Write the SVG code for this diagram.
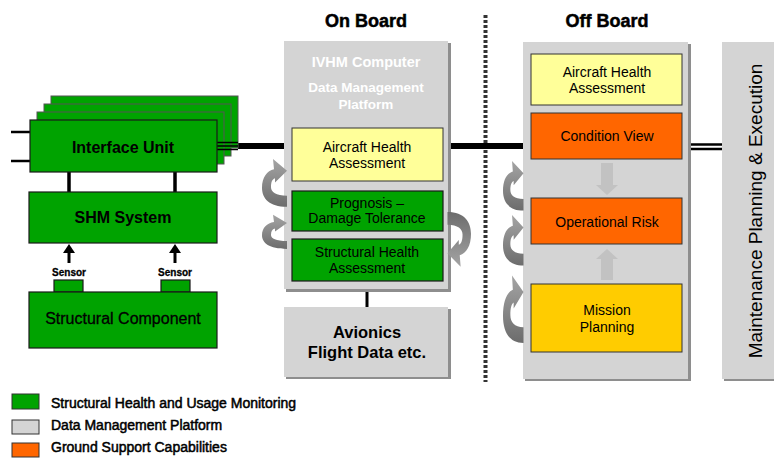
<svg xmlns="http://www.w3.org/2000/svg" width="774" height="459" viewBox="0 0 774 459">
  <style>
    text { font-family: "Liberation Sans", Arial, sans-serif; fill: #000; }
    .hdr { font-size: 18px; font-weight: bold; stroke: #000; stroke-width: 0.5; text-anchor: middle; }
    .big { font-size: 16px; font-weight: bold; text-anchor: middle; }
    .box { font-size: 14px; text-anchor: middle; }
    .wht { fill: #fff; font-weight: bold; text-anchor: middle; }
    .sens { font-size: 10px; font-weight: bold; stroke: #000; stroke-width: 0.3; text-anchor: middle; }
    .leg { font-size: 14px; stroke: #000; stroke-width: 0.5; }
    .green { fill: #00A300; stroke: #1a1a1a; stroke-width: 1.2; }
    .stack { fill: #00A300; stroke: #555; stroke-width: 1; }
    .yellow { fill: #FFFF99; stroke: #333; stroke-width: 1; }
    .orange { fill: #FF6600; stroke: #333; stroke-width: 1; }
    .gold { fill: #FFCC00; stroke: #333; stroke-width: 1; }
    .panel { fill: #D4D4D4; }
    .shadow { fill: #8E8E8E; }
    .wire { stroke: #000; fill: none; }
  </style>
  <defs>
    <linearGradient id="curlFill" x1="0" y1="0" x2="0" y2="1">
      <stop offset="0" stop-color="#A4A4A4"/>
      <stop offset="1" stop-color="#6C6C6C"/>
    </linearGradient>
    <!-- curved feedback arrow, 25 x 46, box edge on the right -->
    <path id="curl" fill="url(#curlFill)" d="M25 46 C7 46 0 38 0 28 C0 18 5 12 12 10.5 L11 1 L25 12 L13 23 L13 19 C10 20 9 23 9 27.5 C9 32 14 35.5 25 35.5 Z"/>
  </defs>

  <rect width="774" height="459" fill="#fff"/>

  <!-- section headings and divider -->
  <text class="hdr" x="366" y="27">On Board</text>
  <text class="hdr" x="607" y="27">Off Board</text>
  <line x1="485.5" y1="15" x2="485.5" y2="382" stroke="#333" stroke-width="4" stroke-dasharray="3 2"/>

  <!-- connectors -->
  <g id="connectors">
    <line class="wire" x1="11" y1="132" x2="30" y2="132" stroke-width="2.5"/>
    <line class="wire" x1="11" y1="161" x2="30" y2="161" stroke-width="2.5"/>
    <line class="wire" x1="69" y1="172" x2="69" y2="192" stroke-width="3.5"/>
    <line class="wire" x1="175" y1="172" x2="175" y2="192" stroke-width="3.5"/>
    <line class="wire" x1="69" y1="263" x2="69" y2="252" stroke-width="3"/>
    <path d="M63 253 L69 244 L75 253 Z" fill="#000"/>
    <line class="wire" x1="175" y1="263" x2="175" y2="252" stroke-width="3"/>
    <path d="M169 253 L175 244 L181 253 Z" fill="#000"/>
    <!-- data bus from interface unit through both platforms -->
    <line class="wire" x1="238" y1="146" x2="523" y2="146" stroke-width="6"/>
    <line class="wire" x1="367" y1="290" x2="367" y2="307" stroke-width="3"/>
    <line class="wire" x1="689" y1="144.5" x2="723" y2="144.5" stroke-width="2.5"/>
    <line class="wire" x1="689" y1="149" x2="723" y2="149" stroke-width="2.5"/>
  </g>

  <!-- Interface Unit stack -->
  <g id="interface-unit">
    <rect class="stack" x="51" y="96" width="187" height="52"/>
    <rect class="stack" x="44" y="104" width="187" height="52"/>
    <rect class="stack" x="37" y="112" width="187" height="52"/>
    <line class="wire" x1="215" y1="142.5" x2="238" y2="142.5" stroke-width="1.5"/>
    <line class="wire" x1="215" y1="146" x2="238" y2="146" stroke-width="1.5"/>
    <line class="wire" x1="215" y1="149.5" x2="238" y2="149.5" stroke-width="1.5"/>
    <rect class="green" x="30" y="120" width="187" height="52"/>
    <text class="big" x="123" y="153">Interface Unit</text>
  </g>

  <g id="shm-system">
    <rect class="green" x="29" y="192" width="188" height="51"/>
    <text class="big" x="123" y="223">SHM System</text>
  </g>

  <g id="sensor-1">
    <text class="sens" x="69" y="276">Sensor</text>
    <rect class="green" x="54" y="280" width="29" height="12"/>
  </g>
  <g id="sensor-2">
    <text class="sens" x="175" y="276">Sensor</text>
    <rect class="green" x="161" y="280" width="29" height="12"/>
  </g>

  <g id="structural-component">
    <rect class="green" x="29" y="292" width="188" height="56"/>
    <text class="box" x="123" y="324" style="font-size:16px;stroke:#000;stroke-width:0.3">Structural Component</text>
  </g>

  <!-- on-board computer -->
  <g id="ivhm-computer">
    <rect class="shadow" x="286" y="43" width="165" height="249"/>
    <rect class="panel" x="284" y="41" width="164" height="248"/>
    <text class="wht" x="366" y="67" style="font-size:14.5px">IVHM Computer</text>
    <text class="wht" x="366" y="92" style="font-size:13.5px">Data Management</text>
    <text class="wht" x="366" y="109" style="font-size:13.5px">Platform</text>
  </g>
  <g id="ivhm-aircraft-health">
    <rect class="yellow" x="292" y="128" width="151" height="53"/>
    <text class="box" x="367" y="152">Aircraft Health</text>
    <text class="box" x="367" y="168">Assessment</text>
  </g>
  <g id="prognosis">
    <rect class="green" x="292" y="191" width="151" height="40"/>
    <text class="box" x="367" y="208">Prognosis –</text>
    <text class="box" x="367" y="223">Damage Tolerance</text>
  </g>
  <g id="structural-health">
    <rect class="green" x="292" y="239" width="151" height="42"/>
    <text class="box" x="367" y="257">Structural Health</text>
    <text class="box" x="367" y="273">Assessment</text>
  </g>

  <g id="avionics">
    <rect class="shadow" x="286" y="309" width="165" height="70"/>
    <rect class="panel" x="284" y="307" width="164" height="70"/>
    <text class="big" x="367" y="338" style="font-size:16.5px">Avionics</text>
    <text class="big" x="367" y="358" style="font-size:16.5px">Flight Data etc.</text>
  </g>

  <!-- off-board station -->
  <g id="off-board">
    <rect class="shadow" x="525" y="44" width="166" height="337"/>
    <rect class="panel" x="523" y="42" width="165" height="337"/>
    <path d="M601 163 H613 V185 H618 L607 195 L596 185 H601 Z" fill="#C2C2C2"/>
    <path d="M601 280 H613 V259 H618 L607 249 L596 259 H601 Z" fill="#C2C2C2"/>
  </g>
  <g id="offboard-aircraft-health">
    <rect class="yellow" x="531" y="54" width="151" height="51"/>
    <text class="box" x="607" y="77">Aircraft Health</text>
    <text class="box" x="607" y="93">Assessment</text>
  </g>
  <g id="condition-view">
    <rect class="orange" x="531" y="113" width="151" height="46"/>
    <text class="box" x="607" y="141">Condition View</text>
  </g>
  <g id="operational-risk">
    <rect class="orange" x="531" y="198" width="151" height="46"/>
    <text class="box" x="607" y="227">Operational Risk</text>
  </g>
  <g id="mission-planning">
    <rect class="gold" x="531" y="284" width="151" height="68"/>
    <text class="box" x="607" y="315">Mission</text>
    <text class="box" x="607" y="332">Planning</text>
  </g>

  <g id="maintenance">
    <rect class="shadow" x="724" y="44" width="52" height="337"/>
    <rect class="panel" x="722" y="42" width="54" height="337"/>
    <text transform="translate(762,211) rotate(-90)" style="font-size:19px;text-anchor:middle">Maintenance Planning &amp; Execution</text>
  </g>

  <!-- feedback loops -->
  <g id="loops">
    <use href="#curl" transform="translate(262,158) scale(1,1.06)"/>
    <use href="#curl" transform="translate(262,214) scale(1,0.76)"/>
    <use href="#curl" transform="translate(471,268) rotate(180) scale(0.94,1.22)"/>
    <use href="#curl" transform="translate(503,160) scale(0.82,1.1)"/>
    <use href="#curl" transform="translate(503,214) scale(0.82,1.12)"/>
    <use href="#curl" transform="translate(503,274) scale(0.82,1.5)"/>
  </g>

  <!-- legend -->
  <g id="legend">
    <rect x="12" y="394" width="27" height="15" fill="#00A300" stroke="#333" stroke-width="1"/>
    <text class="leg" x="51" y="408">Structural Health and Usage Monitoring</text>
    <rect x="12" y="420" width="27" height="14" fill="#D4D4D4" stroke="#333" stroke-width="1"/>
    <text class="leg" x="51" y="430">Data Management Platform</text>
    <rect x="12" y="443" width="27" height="14" fill="#FF6600" stroke="#333" stroke-width="1"/>
    <text class="leg" x="51" y="452">Ground Support Capabilities</text>
  </g>
</svg>
